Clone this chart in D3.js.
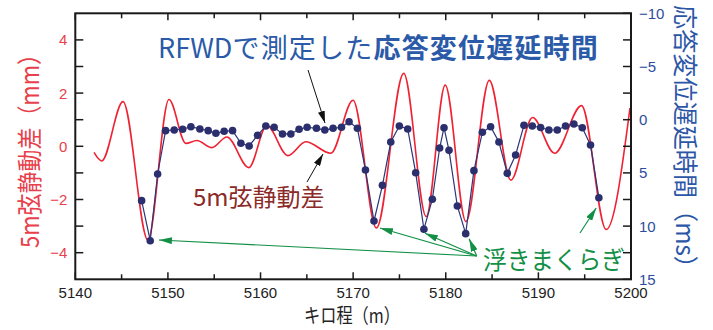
<!DOCTYPE html>
<html>
<head>
<meta charset="utf-8">
<script src="https://cdn.jsdelivr.net/npm/d3@7"></script>
<style>
  body { margin: 0; background: #fff; }
  svg { display: block; }
</style>
</head>
<body>
<svg width="713" height="330"></svg>
<script>
// 5m弦静動差 (mm) -- peaks / troughs
var chordKm = [5142.02, 5142.85, 5145.15, 5147.84, 5150.11, 5151.94, 5153.13, 5154.75,
  5156.36, 5158.74, 5160.68, 5162.95, 5164.89, 5167.59, 5169.99, 5172.51, 5175.46,
  5177.89, 5179.94, 5182.18, 5184.70, 5187.03, 5189.37, 5191.75, 5194.66, 5197.32, 5199.89];
var chordMm = [-0.23, -0.55, 1.68, -3.52, 1.76, 0.11, 0.22, -0.05,
  0.35, -0.80, 0.78, -0.35, 0.17, -0.26, 1.73, -3.07, 2.74,
  -2.64, 2.30, -2.83, 2.48, -1.27, 1.08, -0.26, 1.53, -3.13, 1.44];

// RFWDで測定した応答変位遅延時間 (ms)
var delayKm = [5147.16, 5148.09, 5148.89, 5149.75, 5150.68, 5151.59, 5152.48, 5153.45,
  5154.35, 5155.18, 5156.07, 5156.98, 5157.88, 5158.77, 5159.68, 5160.57, 5161.47,
  5162.37, 5163.27, 5164.16, 5165.03, 5166.04, 5166.94, 5167.83, 5168.74, 5169.56,
  5170.46, 5171.33, 5172.25, 5173.16, 5174.06, 5174.99, 5175.89, 5176.75, 5177.64,
  5178.55, 5179.34, 5179.81, 5180.35, 5181.25, 5182.15, 5183.04, 5183.95, 5184.84,
  5185.74, 5186.64, 5187.54, 5188.44, 5189.34, 5190.24, 5191.13, 5192.04, 5192.93,
  5193.83, 5194.74, 5195.63, 5196.53];
var delayMs = [7.61, 11.37, 5.10, 1.03, 0.97, 0.90, 0.66, 0.87,
  1.03, 1.28, 1.09, 1.03, 2.22, 2.47, 1.47, 0.59, 0.71,
  1.34, 1.34, 0.90, 0.71, 0.81, 0.97, 0.81, 0.71, 0.19,
  0.81, 4.73, 9.52, 6.17, 2.10, 0.59, 0.87, 4.98, 10.29,
  7.48, 2.66, 0.75, 2.88, 8.11, 10.71, 4.79, 1.18, 0.66,
  2.10, 5.04, 3.32, 0.53, 0.59, 0.73, 0.97, 0.97, 0.59,
  0.40, 0.75, 2.38, 7.33];

// 浮きまくらぎ: indices of the hanging-sleeper points
var hangingIdx = [1, 28, 34, 40, 56];

var xTickValues = [5140, 5145, 5150, 5155, 5160, 5165, 5170, 5175, 5180, 5185, 5190, 5195, 5200];
var xLabelValues = [5140, 5150, 5160, 5170, 5180, 5190, 5200];
var leftTickValues = [-4, -3, -2, -1, 0, 1, 2, 3, 4];
var leftLabelValues = [-4, -2, 0, 2, 4];
var rightTickValues = [-10, -7.5, -5, -2.5, 0, 2.5, 5, 7.5, 10, 12.5, 15];
var rightLabelValues = [-10, -5, 0, 5, 10, 15];

var svg = d3.select("svg");
var pL = 75.3, pR = 631, pT = 13.3, pB = 279.3;

var x = d3.scaleLinear().domain([5140, 5200]).range([pL, pR]);
var yL = d3.scaleLinear().domain([-5, 5]).range([pB, pT]);
var yR = d3.scaleLinear().domain([-10, 15]).range([pT, pB]);

var JP = "'Noto Sans CJK JP', 'Noto Sans', sans-serif";
var NUM = "'Liberation Sans', Arial, sans-serif";
var fmt = function(d) { return d < 0 ? "\u2212" + Math.abs(d) : "" + d; };

var defs = svg.append("defs");
function marker(id, color, len, wid) {
  defs.append("marker")
    .attr("id", id)
    .attr("markerUnits", "userSpaceOnUse")
    .attr("viewBox", "0 0 " + len + " " + wid)
    .attr("refX", len).attr("refY", wid / 2)
    .attr("markerWidth", len).attr("markerHeight", wid)
    .attr("orient", "auto")
    .append("path")
    .attr("d", "M0,0L" + len + "," + wid / 2 + "L0," + wid + "Z")
    .attr("fill", color);
}
marker("ah-black", "#111", 12, 7);
marker("ah-green", "#139046", 13, 7);

// chord curve
var chord = chordKm.map(function(k, i) { return [k, chordMm[i]]; });
svg.append("path")
  .datum(chord)
  .attr("fill", "none")
  .attr("stroke", "#ee2233")
  .attr("stroke-width", 1.6)
  .attr("d", d3.line().curve(d3.curveMonotoneX)
    .x(function(d) { return x(d[0]); })
    .y(function(d) { return yL(d[1]); }));

// delay series
var delay = delayKm.map(function(k, i) { return [k, delayMs[i]]; });
svg.append("path")
  .datum(delay)
  .attr("fill", "none")
  .attr("stroke", "#2d3578")
  .attr("stroke-width", 1.2)
  .attr("d", d3.line()
    .x(function(d) { return x(d[0]); })
    .y(function(d) { return yR(d[1]); }));

svg.append("g").selectAll("circle")
  .data(delay)
  .join("circle")
  .attr("cx", function(d) { return x(d[0]); })
  .attr("cy", function(d) { return yR(d[1]); })
  .attr("r", 3.8)
  .attr("fill", "#2b2f6e");

// frame and ticks
var axisCol = "#1a1a1a";
svg.append("rect")
  .attr("x", pL).attr("y", pT)
  .attr("width", pR - pL).attr("height", pB - pT)
  .attr("fill", "none").attr("stroke", axisCol).attr("stroke-width", 2);

var ticks = svg.append("g").attr("stroke", axisCol).attr("stroke-width", 1.5);
xTickValues.forEach(function(v) {
  var len = v % 10 === 0 ? 7 : 5;
  ticks.append("line").attr("x1", x(v)).attr("x2", x(v)).attr("y1", pB).attr("y2", pB - len);
  ticks.append("line").attr("x1", x(v)).attr("x2", x(v)).attr("y1", pT).attr("y2", pT + len);
});
leftTickValues.forEach(function(v) {
  ticks.append("line").attr("x1", pL).attr("x2", pL + 8).attr("y1", yL(v)).attr("y2", yL(v));
});
rightTickValues.forEach(function(v) {
  ticks.append("line").attr("x1", pR).attr("x2", pR - 8).attr("y1", yR(v)).attr("y2", yR(v));
});

// tick labels
svg.append("g").selectAll("text")
  .data(xLabelValues).join("text")
  .attr("x", function(d) { return x(d); })
  .attr("y", 298)
  .attr("text-anchor", "middle")
  .attr("font-family", NUM).attr("font-size", 15).attr("fill", "#222")
  .text(function(d) { return d; });

svg.append("g").selectAll("text")
  .data(leftLabelValues).join("text")
  .attr("x", pL - 8)
  .attr("y", function(d) { return yL(d) + 5.5; })
  .attr("text-anchor", "end")
  .attr("font-family", NUM).attr("font-size", 15).attr("fill", "#e8404b")
  .text(fmt);

svg.append("g").selectAll("text")
  .data(rightLabelValues).join("text")
  .attr("x", pR + 8)
  .attr("y", function(d) { return yR(d) + 5.5; })
  .attr("text-anchor", "start")
  .attr("font-family", NUM).attr("font-size", 15).attr("fill", "#2e4c9e")
  .text(fmt);

// axis titles
svg.append("text")
  .attr("transform", "translate(39,145.5) rotate(-90)")
  .attr("text-anchor", "middle")
  .attr("font-family", JP).attr("font-size", 25).attr("fill", "#e8404b")
  .attr("textLength", 205).attr("lengthAdjust", "spacingAndGlyphs")
  .text("5m弦静動差（mm）");

svg.append("text")
  .attr("transform", "translate(676,142.5) rotate(90)")
  .attr("text-anchor", "middle")
  .attr("font-family", JP).attr("font-size", 25).attr("fill", "#2b56a6")
  .attr("textLength", 275).attr("lengthAdjust", "spacingAndGlyphs")
  .text("応答変位遅延時間（ms）");

svg.append("text")
  .attr("x", 352).attr("y", 323)
  .attr("text-anchor", "middle")
  .attr("font-family", JP).attr("font-size", 20).attr("fill", "#222")
  .attr("textLength", 96).attr("lengthAdjust", "spacingAndGlyphs")
  .text("キロ程（m）");

// annotations
var title = svg.append("text")
  .attr("x", 158).attr("y", 58)
  .attr("font-family", JP).attr("font-size", 27).attr("fill", "#2a5aa8");
title.append("tspan").text("RFWD");
title.append("tspan").attr("letter-spacing", 1.2).text("で測定した");
title.append("tspan").attr("letter-spacing", 1.2).attr("font-weight", "bold").text("応答変位遅延時間");

svg.append("line")
  .attr("x1", 308).attr("y1", 70).attr("x2", 325).attr("y2", 123)
  .attr("stroke", "#111").attr("stroke-width", 1)
  .attr("marker-end", "url(#ah-black)");

svg.append("text")
  .attr("x", 193).attr("y", 206)
  .attr("font-family", JP).attr("font-size", 24).attr("fill", "#8c2a2a")
  .text("5m弦静動差");

svg.append("line")
  .attr("x1", 307).attr("y1", 182).attr("x2", 323).attr("y2", 154)
  .attr("stroke", "#111").attr("stroke-width", 1)
  .attr("marker-end", "url(#ah-black)");

svg.append("text")
  .attr("x", 483).attr("y", 269)
  .attr("font-family", JP).attr("font-size", 25).attr("fill", "#139046")
  .attr("textLength", 142).attr("lengthAdjust", "spacingAndGlyphs")
  .text("浮きまくらぎ");

// green arrows to the hanging-sleeper points (tip offset from the dot)
var tipOffset = [[8.7, -0.7], [6, 7], [1, 4], [3.5, 5], [-2.6, 10.3]];
var origin = [476.7, 256];
hangingIdx.forEach(function(idx, i) {
  var tx = x(delayKm[idx]) + tipOffset[i][0];
  var ty = yR(delayMs[idx]) + tipOffset[i][1];
  var from = i === 4 ? [580, 233] : origin;
  svg.append("line")
    .attr("x1", from[0]).attr("y1", from[1]).attr("x2", tx).attr("y2", ty)
    .attr("stroke", "#139046").attr("stroke-width", 1.2)
    .attr("marker-end", "url(#ah-green)");
});
</script>
</body>
</html>
